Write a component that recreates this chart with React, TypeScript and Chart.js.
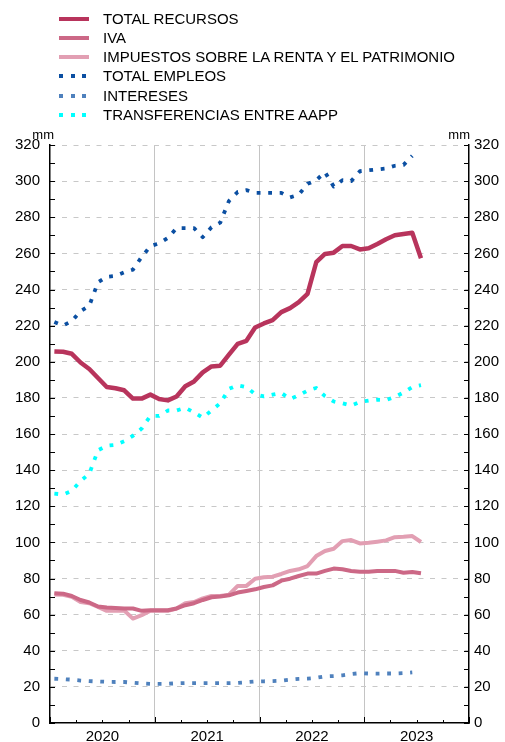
import React, { useEffect, useRef } from 'react';
import { Chart, registerables } from 'chart.js';

Chart.register(...registerables);

// ---- DATA ----
const YEARS = ['2020', '2021', '2022', '2023'];
const MONTHS = [
  '2020-01','2020-02','2020-03','2020-04','2020-05','2020-06','2020-07','2020-08','2020-09','2020-10','2020-11','2020-12',
  '2021-01','2021-02','2021-03','2021-04','2021-05','2021-06','2021-07','2021-08','2021-09','2021-10','2021-11','2021-12',
  '2022-01','2022-02','2022-03','2022-04','2022-05','2022-06','2022-07','2022-08','2022-09','2022-10','2022-11','2022-12',
  '2023-01','2023-02','2023-03','2023-04','2023-05','2023-06','2023-07',
];
const TOTAL_RECURSOS = [
  205.7, 205.5, 204.4, 199.6, 196, 191, 186, 185.3, 184.2, 179.6, 179.6, 181.8,
  179.4, 178.6, 180.8, 186.4, 189.1, 194.1, 197.4, 197.8, 203.9, 209.9, 211.6, 219,
  221.2, 223, 227.5, 229.7, 233, 237.6, 255.1, 259.7, 260.4, 264.1, 264.1, 262.2,
  262.8, 265.2, 267.8, 270, 270.7, 271.4, 257.3,
];
const IVA = [
  71.8, 71.6, 70.3, 68.1, 66.7, 64.5, 63.9, 63.7, 63.4, 63.4, 62.1, 62.4,
  62.4, 62.4, 63.4, 65.2, 66.3, 68.1, 69.6, 70, 70.7, 72.2, 73.1, 74,
  75.3, 76.2, 78.8, 79.9, 81.4, 82.7, 82.7, 84.2, 85.5, 85.1, 84.2, 83.8,
  83.8, 84.2, 84.2, 84.2, 83.2, 83.6, 82.9,
];
const IMPUESTOS = [
  71.2, 71, 69.9, 67, 66.3, 64.3, 62.1, 62.1, 62.3, 57.8, 59.7, 62.1,
  62.1, 62.1, 63.4, 66.3, 67, 69, 70.3, 70.3, 71, 75.9, 75.9, 79.9,
  80.7, 81, 82.5, 84.2, 85.1, 86.9, 92.4, 95.2, 96.5, 100.7, 101.3, 99.4,
  99.8, 100.4, 101.1, 102.9, 103.1, 103.5, 100.2,
];
const TOTAL_EMPLEOS = [
  222, 220, 222.5, 228, 231, 244, 247, 247.5, 249.5, 251, 258, 264,
  265.5, 268.5, 274, 274, 274, 269, 274.5, 277, 289, 294, 295, 293.5,
  293.5, 293.5, 293.5, 291, 292.5, 298.5, 300.5, 305, 297, 300.5, 300, 305.5,
  306, 306.5, 307, 308.5, 309, 314,
];
const INTERESES = [
  24.5, 24.3, 24, 23.5, 23.2, 23, 22.8, 22.7, 22.7, 22.3, 21.9, 21.7,
  21.7, 21.7, 22, 22.1, 22.1, 22.1, 22.1, 22.1, 22.1, 22.2, 22.6, 23,
  23.1, 23.2, 23.4, 24, 24.4, 24.6, 25, 25.8, 26, 26.4, 27.1, 27.6,
  27.4, 27.3, 27.4, 27.4, 27.6, 28,
];
const TRANSFERENCIAS = [
  127, 126.5, 128.5, 134, 138, 151, 153.5, 154, 156, 159, 163, 170,
  170, 173, 173, 174.5, 172, 169, 173, 177, 185, 187, 186, 182,
  180.8, 181.8, 182.7, 179.4, 181.4, 184, 185.5, 181, 178, 177, 175.7, 177.7,
  178.5, 179, 178.8, 180.5, 183, 186, 187,
];
const Y_MIN = 0;
const Y_MAX = 320;
const Y_MINOR = 10;
const Y_MAJOR = 20;

const FONT = '"Liberation Sans", Arial, sans-serif';

type Series = { label: string; data: number[]; color: string; dotted: boolean; width: number };
const SERIES: Series[] = [
  { label: 'TOTAL RECURSOS', data: TOTAL_RECURSOS, color: '#b8345c', dotted: false, width: 4.5 },
  { label: 'IVA', data: IVA, color: '#cc6886', dotted: false, width: 4 },
  { label: 'IMPUESTOS SOBRE LA RENTA Y EL PATRIMONIO', data: IMPUESTOS, color: '#e29fb3', dotted: false, width: 4 },
  { label: 'TOTAL EMPLEOS', data: TOTAL_EMPLEOS, color: '#0b4fa2', dotted: true, width: 3.8 },
  { label: 'INTERESES', data: INTERESES, color: '#4f81bd', dotted: true, width: 3.8 },
  { label: 'TRANSFERENCIAS ENTRE AAPP', data: TRANSFERENCIAS, color: '#00ffff', dotted: true, width: 3.8 },
];

const N_AXIS_MONTHS = YEARS.length * 12;

const isYearBoundary = (v: number) => {
  const m = v + 0.5;
  return m > 0 && m < N_AXIS_MONTHS && m % 12 === 0;
};

const innerTicks = {
  id: 'innerTicks',
  afterDraw(chart: any) {
    const { ctx, chartArea, scales } = chart;
    const { left, right, top, bottom } = chartArea;
    const x = scales.x;
    const y = scales.y;
    ctx.save();
    ctx.strokeStyle = '#000';
    ctx.lineWidth = 1;
    ctx.beginPath();
    for (let v = Y_MIN; v <= Y_MAX; v += Y_MINOR) {
      const py = Math.round(y.getPixelForValue(v)) + 0.5;
      ctx.moveTo(left, py);
      ctx.lineTo(left + 5, py);
      ctx.moveTo(right, py);
      ctx.lineTo(right - 5, py);
    }
    for (let k = 0; k <= N_AXIS_MONTHS / 3; k++) {
      const val = -0.5 + 3 * k;
      const px = Math.round(x.getPixelForValue(val)) + 0.5;
      const len = k % 4 === 0 ? 6 : 3;
      ctx.moveTo(px, bottom);
      ctx.lineTo(px, bottom - len);
    }
    ctx.stroke();
    ctx.fillStyle = '#000';
    ctx.font = `13px ${FONT}`;
    ctx.textAlign = 'right';
    ctx.textBaseline = 'alphabetic';
    ctx.fillText('mm', left + 4, top - 6);
    ctx.fillText('mm', right + 1, top - 6);
    ctx.restore();
  },
};

function Legend() {
  return (
    <div style={{ position: 'absolute', left: 0, top: 0, width: 505, height: 130, pointerEvents: 'none' }}>
      {SERIES.map((s, i) => (
        <div
          key={s.label}
          style={{
            position: 'absolute',
            left: 0,
            top: 18.5 + i * 19.3 - 10,
            height: 20,
            display: 'flex',
            alignItems: 'center',
            whiteSpace: 'nowrap',
          }}
        >
          <div style={{ position: 'relative', marginLeft: 59, width: 30, height: 4 }}>
            {s.dotted ? (
              [0, 11.5, 23].map((o) => (
                <div key={o} style={{ position: 'absolute', left: o, top: 0, width: 4, height: 4, background: s.color }} />
              ))
            ) : (
              <div style={{ position: 'absolute', left: 0, top: 0, width: 30, height: 4, background: s.color }} />
            )}
          </div>
          <span style={{ marginLeft: 14, fontFamily: FONT, fontSize: '15px', lineHeight: '16px', color: '#000' }}>{s.label}</span>
        </div>
      ))}
    </div>
  );
}

export default function App() {
  const ref = useRef<HTMLCanvasElement>(null);

  useEffect(() => {
    if (!ref.current) return;
    const tickFont = { family: FONT, size: 15 };
    const chart = new Chart(ref.current, {
      type: 'line',
      data: {
        datasets: SERIES.map((s) => ({
          label: s.label,
          data: s.data.map((v, i) => ({ x: MONTHS.indexOf(MONTHS[i]), y: v })),
          borderColor: s.color,
          backgroundColor: s.color,
          borderWidth: s.width,
          borderDash: s.dotted ? [3.8, 7.7] : [],
          borderCapStyle: 'butt',
          borderJoinStyle: 'round',
          pointRadius: 0,
          tension: 0,
          fill: false,
        })),
      },
      options: {
        responsive: false,
        animation: false,
        devicePixelRatio: 1,
        layout: { padding: { top: 145, left: 0, right: 0, bottom: 0 } },
        plugins: { legend: { display: false }, tooltip: { enabled: false }, title: { display: false } },
        scales: {
          x: {
            type: 'linear',
            min: -0.5,
            max: N_AXIS_MONTHS - 0.5,
            afterBuildTicks: (s: any) => {
              const t = [];
              for (let k = 0; k <= N_AXIS_MONTHS / 3; k++) t.push({ value: -0.5 + 3 * k });
              s.ticks = t;
            },
            afterFit: (s: any) => {
              s.height = 18;
            },
            ticks: {
              autoSkip: false,
              maxRotation: 0,
              padding: 5,
              color: '#000',
              font: tickFont,
              callback: (v: any) => {
                const m = Number(v) + 0.5;
                if ((m - 6) % 12 === 0) return YEARS[(m - 6) / 12] ?? '';
                return '';
              },
            },
            grid: {
              drawTicks: false,
              lineWidth: 1,
              color: (c: any) => (c.tick && isYearBoundary(c.tick.value) ? '#c4c4c4' : 'rgba(0,0,0,0)'),
            },
            border: { color: '#000', width: 1.5 },
          },
          y: {
            position: 'left',
            min: Y_MIN,
            max: Y_MAX,
            afterFit: (s: any) => {
              s.width = 50;
            },
            ticks: {
              stepSize: Y_MINOR,
              autoSkip: false,
              padding: 10,
              color: '#000',
              font: tickFont,
              callback: (v: any) => (Number(v) % Y_MAJOR === 0 ? String(v) : ''),
            },
            grid: {
              drawTicks: false,
              lineWidth: 1,
              color: (c: any) =>
                c.tick && c.tick.value % Y_MAJOR === 0 && c.tick.value > Y_MIN ? '#c8c8c8' : 'rgba(0,0,0,0)',
            },
            border: { color: '#000', width: 1.5, dash: [5, 6.5] },
          },
          y2: {
            position: 'right',
            min: Y_MIN,
            max: Y_MAX,
            afterFit: (s: any) => {
              s.width = 36;
            },
            ticks: {
              stepSize: Y_MINOR,
              autoSkip: false,
              padding: 5,
              color: '#000',
              font: tickFont,
              callback: (v: any) => (Number(v) % Y_MAJOR === 0 ? String(v) : ''),
            },
            grid: { drawTicks: false, drawOnChartArea: false },
            border: { color: '#000', width: 1.5 },
          },
        },
      },
      plugins: [innerTicks],
    } as any);
    return () => chart.destroy();
  }, []);

  return (
    <div style={{ position: 'absolute', left: 0, top: 0, width: 505, height: 742, background: '#fff' }}>
      <canvas ref={ref} width={505} height={742} style={{ display: 'block' }} />
      <Legend />
    </div>
  );
}
